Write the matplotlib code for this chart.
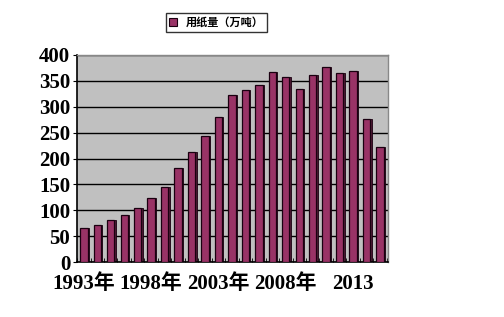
import matplotlib
matplotlib.use("Agg")
import matplotlib.pyplot as plt
from matplotlib.patches import Patch
import numpy as np

years = list(range(1993, 2016))
values = [65, 72, 82, 91, 105, 124, 145, 182, 213, 244, 281, 322, 332, 342, 367, 357, 334, 362, 376, 365, 370, 276, 222]
tick_labels = ["1993年", "1998年", "2003年", "2008年", "2013"]
tick_years = [1993, 1998, 2003, 2008, 2013]
legend_label = "用纸量（万吨）"

fam = ["Liberation Serif", "Noto Sans CJK SC"]

fig = plt.figure(figsize=(5.04, 3.17), dpi=100)
ax = fig.add_axes([0.153, 0.1735, 0.617, 0.653])
ax.set_facecolor("#C0C0C0")

x = np.arange(len(years))
# side (depth) faces for a 3D look
ax.bar(x + 0.30, values, width=0.14, color="#4d1a33", edgecolor="#1a0010", linewidth=0.6, zorder=2)
ax.bar(x, values, width=0.55, color="#993366", edgecolor="#1a0010", linewidth=0.9, zorder=3)

ax.set_xlim(-0.45, 22.6)
ax.set_ylim(0, 400)
ax.set_yticks(range(0, 401, 50))
ax.yaxis.grid(True, color="black", linewidth=1.0, zorder=1)
ax.set_axisbelow(True)

ax.set_xticks([years.index(y) for y in tick_years])
ax.set_xticklabels(tick_labels)
ax.set_xticks(np.arange(-0.5, 23, 1), minor=True)
ax.tick_params(axis="x", which="major", length=0, pad=8.5)
ax.tick_params(axis="x", which="minor", length=3, direction="in", color="black")
ax.tick_params(axis="y", length=3, direction="out", pad=2)

for lab in ax.get_yticklabels():
    lab.set_family(fam)
    lab.set_fontweight("bold")
    lab.set_fontsize(15)
for lab in ax.get_xticklabels():
    lab.set_family(fam)
    lab.set_fontweight("bold")
    lab.set_fontsize(15)

for s in ["top", "right"]:
    ax.spines[s].set_color("#888888")
    ax.spines[s].set_linewidth(1.0)
for s in ["left", "bottom"]:
    ax.spines[s].set_color("black")
    ax.spines[s].set_linewidth(1.2)

handle = Patch(facecolor="#993366", edgecolor="#1a0010", linewidth=0.8)
leg = fig.legend([handle], [legend_label], loc="upper left",
                 bbox_to_anchor=(160/504, 1 - 7/317), frameon=True, fancybox=False,
                 handlelength=0.7, handleheight=0.7, handletextpad=0.8, borderpad=0.3,
                 prop={"family": ["Noto Sans CJK SC", "DejaVu Sans"], "weight": "bold", "size": 8})
leg.get_frame().set_edgecolor("black")
leg.get_frame().set_linewidth(1.0)

fig.savefig("out.png", dpi=100)
